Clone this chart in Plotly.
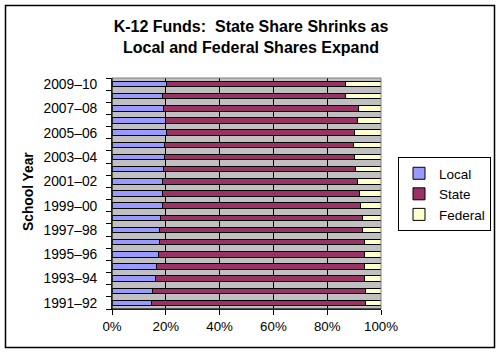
import plotly.graph_objects as go

years = ["1991–92", "1992–93", "1993–94", "1994–95", "1995–96", "1996–97",
         "1997–98", "1998–99", "1999–00", "2000–01", "2001–02", "2002–03",
         "2003–04", "2004–05", "2005–06", "2006–07", "2007–08", "2008–09",
         "2009–10"]
local = [14.5, 15.2, 16.3, 16.7, 17.1, 17.8, 17.5, 18.2, 18.9, 18.9,
         18.9, 19.3, 19.7, 19.7, 20.2, 20.0, 19.3, 18.9, 20.4]
state = [79.8, 79.1, 77.6, 77.2, 76.8, 76.1, 75.7, 75.0, 73.6, 73.2,
         72.4, 71.3, 70.5, 70.2, 70.0, 71.1, 72.2, 68.0, 66.5]
federal = [5.7, 5.7, 6.1, 6.1, 6.1, 6.1, 6.8, 6.8, 7.5, 7.9,
           8.7, 9.4, 9.8, 10.1, 9.8, 8.9, 8.5, 13.1, 13.1]
x_ticks = [0, 20, 40, 60, 80, 100]

series = [("Local", local, "#9999FF"), ("State", state, "#993366"),
          ("Federal", federal, "#FFFFCC")]

pos = list(range(len(years)))
fig = go.Figure()
for name, vals, col in series:
    fig.add_trace(go.Bar(y=pos, x=vals, name=name, orientation="h", width=0.45,
                         marker=dict(color=col, line=dict(color="black", width=1))))

# plot area pixel geometry
L, R, T, B = 112, 381, 78, 309
W, H = 501, 354
pw, ph = R - L, B - T
def px(x): return (x - L) / pw
def py(y): return (B - y) / ph

fig.update_layout(
    width=W, height=H,
    margin=dict(l=L, r=W - R, t=T, b=H - B, autoexpand=False),
    barmode="stack",
    paper_bgcolor="white", plot_bgcolor="#C0C0C0",
    font=dict(family="Liberation Sans, Arial", color="black", size=13.3),
    title=dict(text="<b>K-12 Funds:  State Share Shrinks as<br>Local and Federal Shares Expand</b>",
               x=251 / W, xanchor="center", y=1 - 32 / H, yanchor="top",
               font=dict(size=16, family="Liberation Sans, Arial", color="black")),
    showlegend=True,
    legend=dict(x=px(491), y=py(157), xanchor="right", yanchor="top",
                bordercolor="black", borderwidth=1, bgcolor="white",
                font=dict(size=13.5), traceorder="normal",
                itemwidth=30, tracegroupgap=0),
    bargap=0.55,
)
fig.update_xaxes(range=[0, 100], tickvals=x_ticks, ticktext=[f"{v}%" for v in x_ticks],
                 showline=True, linecolor="black", linewidth=1,
                 ticks="outside", ticklen=5, tickcolor="black",
                 showgrid=True, gridcolor="black", gridwidth=1, zeroline=False,
                 tickfont=dict(size=13.3), automargin=False)
fig.update_yaxes(range=[-0.5, len(years) - 0.5], tickvals=pos[::2], ticktext=years[::2],
                 showline=True, linecolor="black", linewidth=1,
                 ticks="outside", ticklen=5, tickcolor="rgba(0,0,0,0)",
                 ticklabelstandoff=6,
                 minor=dict(ticks="outside", ticklen=5, tickcolor="black",
                            tick0=-0.5, dtick=1, showgrid=False),
                 showgrid=False, zeroline=False, tickfont=dict(size=13.8), automargin=False)

fig.add_annotation(text="<b>School Year</b>", textangle=-90, xref="paper", yref="paper",
                   x=px(28), y=py(192), xanchor="center", yanchor="middle",
                   showarrow=False, font=dict(size=13.8))
# plot area border (top/right grey)
fig.add_shape(type="rect", xref="paper", yref="paper", x0=0, y0=0, x1=1, y1=1,
              line=dict(color="#808080", width=1), layer="above")
fig.add_shape(type="line", xref="paper", yref="paper", x0=0, y0=0, x1=0, y1=1,
              line=dict(color="black", width=1), layer="above")
fig.add_shape(type="line", xref="paper", yref="paper", x0=0, y0=0, x1=1, y1=0,
              line=dict(color="black", width=1), layer="above")
# outer chart border
fig.add_shape(type="rect", xref="paper", yref="paper",
              x0=px(5.5), y0=py(347.5), x1=px(494.5), y1=py(5.5),
              line=dict(color="black", width=1.5), layer="above")

fig.write_html("out.html")
